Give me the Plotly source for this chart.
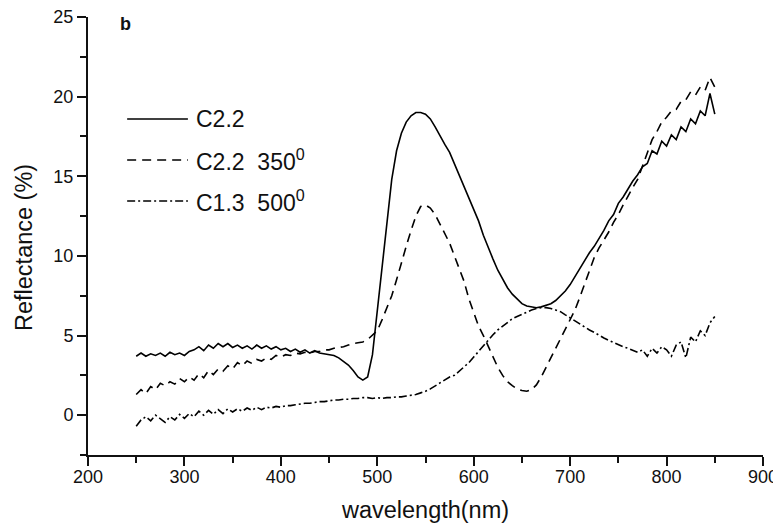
import plotly.graph_objects as go

# wavelength grid (nm) at 5 nm steps
wavelength = list(range(250, 855, 5))

c22 = [3.7, 3.9, 3.7, 3.85, 3.75, 3.9, 3.7, 3.95, 3.8, 3.9,
       3.75, 4.0, 4.1, 4.3, 4.05, 4.4, 4.2, 4.5, 4.3, 4.5,
       4.25, 4.4, 4.2, 4.35, 4.15, 4.4, 4.2, 4.35, 4.15, 4.3,
       4.1, 4.2, 4.0, 4.15, 3.95, 4.1, 3.9, 4.05, 3.9, 3.85,
       3.8, 3.75, 3.6, 3.4, 3.15, 2.8, 2.4, 2.2, 2.4, 3.8,
       6.5, 9.5, 12.3, 14.8, 16.6, 17.7, 18.4, 18.8, 19.0, 19.0,
       18.9, 18.6, 18.1, 17.5, 17.0, 16.5, 15.8, 15.0, 14.3, 13.6,
       13.0, 12.2, 11.3, 10.5, 9.8, 9.1, 8.5, 8.0, 7.6, 7.3,
       7.0, 6.85, 6.8, 6.75, 6.8, 6.9, 7.0, 7.2, 7.5, 7.8,
       8.2, 8.7, 9.2, 9.7, 10.2, 10.6, 11.1, 11.6, 12.2, 12.6,
       13.3, 13.7, 14.2, 14.7, 15.1, 15.6, 15.8, 16.6, 16.4, 17.2,
       16.9, 17.6, 17.3, 18.1, 17.8, 18.6, 18.3, 19.1, 18.8, 20.2,
       18.9]

c22_350 = [1.3, 1.6, 1.35, 1.8, 1.6, 2.0, 1.85, 2.1, 1.95, 2.3,
           2.1, 2.4, 2.2, 2.6, 2.35, 2.8, 2.55, 2.9, 2.75, 3.1,
           2.9, 3.3, 3.1, 3.4, 3.25, 3.5, 3.4, 3.6, 3.5, 3.75,
           3.65, 3.8, 3.75, 3.9, 3.85, 3.95, 3.9, 4.0, 4.0, 4.1,
           4.1, 4.2, 4.25, 4.3, 4.4, 4.5, 4.55, 4.6, 4.75, 5.0,
           5.3, 6.0, 6.8, 7.5, 8.5, 9.6, 10.6, 11.6, 12.5, 13.1,
           13.2, 13.0, 12.6, 12.0, 11.4, 10.8, 10.0, 9.2, 8.4, 7.3,
           6.4, 5.6, 5.0, 4.3, 3.6, 3.0, 2.5, 2.1, 1.85, 1.65,
           1.55, 1.5, 1.6, 1.9, 2.4, 3.0, 3.6, 4.2, 4.8, 5.4,
           6.0, 6.6, 7.4, 8.2, 9.1, 9.9, 10.5, 11.0, 11.5, 12.1,
           12.6, 13.2, 13.8, 14.3, 14.8, 15.6, 16.5, 17.3, 17.8, 18.4,
           18.7, 19.1, 19.2, 19.7, 19.8, 20.3, 20.1, 20.6, 20.4, 21.2,
           20.6]

c13_500 = [-0.7, -0.3, -0.1, -0.35, 0.0, -0.2, -0.45, -0.1, -0.3, 0.05,
           -0.2, 0.1, -0.1, 0.25, 0.0, 0.3, 0.05, 0.35, 0.1, 0.4,
           0.2, 0.4, 0.25, 0.45, 0.3, 0.5, 0.35, 0.5, 0.45, 0.55,
           0.5, 0.6, 0.6, 0.65, 0.7, 0.75, 0.75, 0.8, 0.85, 0.85,
           0.9, 0.95, 0.95, 1.0, 1.0, 1.05, 1.05, 1.1, 1.1, 1.05,
           1.1, 1.05, 1.1, 1.1, 1.15, 1.15, 1.2, 1.25, 1.3, 1.4,
           1.5, 1.65, 1.85, 2.05, 2.25, 2.4, 2.5, 2.75, 3.0, 3.3,
           3.65, 4.0, 4.4, 4.75, 5.05, 5.35, 5.6, 5.85, 6.05, 6.2,
           6.35, 6.5, 6.6, 6.7, 6.75, 6.75, 6.7, 6.6, 6.5, 6.3,
           6.1, 5.9, 5.7, 5.55, 5.35, 5.2, 5.0, 4.85, 4.7, 4.55,
           4.45, 4.3, 4.2, 4.05, 3.95, 4.1, 3.7, 4.2, 3.9, 4.3,
           4.1, 3.7, 4.4, 4.6, 3.6, 4.9, 4.6, 5.3, 5.0, 5.8,
           6.2]

labels = ["C2.2", "C2.2  350<sup>0</sup>", "C1.3  500<sup>0</sup>"]
dashes = ["solid", "9px,6px", "8px,3px,2px,3px"]

fig = go.Figure()
for name, vals, dash in zip(labels, [c22, c22_350, c13_500], dashes):
    fig.add_trace(go.Scatter(x=wavelength, y=vals, mode='lines', name=name,
                             showlegend=False,
                             line=dict(color='black', width=1.6, dash=dash)))

# hand-drawn legend, the way the original figure has it (long line samples)
shapes = []
annotations = []
legend_y = [0.767, 0.6735, 0.580]
for name, dash, ly in zip(labels, dashes, legend_y):
    shapes.append(dict(type='line', xref='paper', yref='paper',
                       x0=0.058, x1=0.148, y0=ly, y1=ly,
                       line=dict(color='black', width=1.6, dash=dash)))
    annotations.append(dict(text=name, x=0.157, y=ly, xref='paper', yref='paper',
                            xanchor='left', yanchor='middle', showarrow=False,
                            font=dict(size=23, color='#111')))

annotations.append(dict(text='<b>b</b>', x=0.045, y=1.0, yshift=5,
                        xref='paper', yref='paper',
                        xanchor='left', yanchor='top', showarrow=False,
                        font=dict(size=18, color='#111')))
# y title sits a bit below the middle of the axis in the original
annotations.append(dict(text='Reflectance (%)', textangle=-90,
                        x=-0.0948, y=0.4726, xref='paper', yref='paper',
                        xanchor='center', yanchor='middle', showarrow=False,
                        font=dict(size=23.5, color='#111')))

# page body has an 8px margin, so the figure is drawn 8px in from the corner
fig.update_layout(width=773, height=515,
                  template='plotly_white',
                  plot_bgcolor='white', paper_bgcolor='white',
                  margin=dict(l=80, r=18, t=9, b=68),
                  font=dict(family='Arial, Liberation Sans', color='#111'),
                  shapes=shapes, annotations=annotations)

tick_font = dict(family='Arial, Liberation Sans', size=18, color='#111')

fig.update_xaxes(range=[200, 900], dtick=100, tick0=200,
                 showgrid=False, zeroline=False, automargin=False,
                 showline=True, linecolor='#111', linewidth=2,
                 ticks='outside', ticklen=9, tickwidth=1.5, tickcolor='#111',
                 ticklabelstandoff=-5, ticklabeloverflow='allow',
                 minor=dict(dtick=50, ticks='outside', ticklen=6,
                            tickwidth=1.5, tickcolor='#111', showgrid=False),
                 tickfont=tick_font,
                 title=dict(text='wavelength(nm)', standoff=24,
                            font=dict(size=23.5, color='#111')))
fig.update_yaxes(range=[-2.5, 25], dtick=5, tick0=0,
                 showgrid=False, zeroline=False, automargin=False,
                 showline=True, linecolor='#111', linewidth=2,
                 ticks='outside', ticklen=9, tickwidth=1.5, tickcolor='#111',
                 ticklabeloverflow='allow',
                 minor=dict(dtick=2.5, ticks='outside', ticklen=6,
                            tickwidth=1.5, tickcolor='#111', showgrid=False),
                 tickfont=tick_font)

fig.write_html("out.html")
